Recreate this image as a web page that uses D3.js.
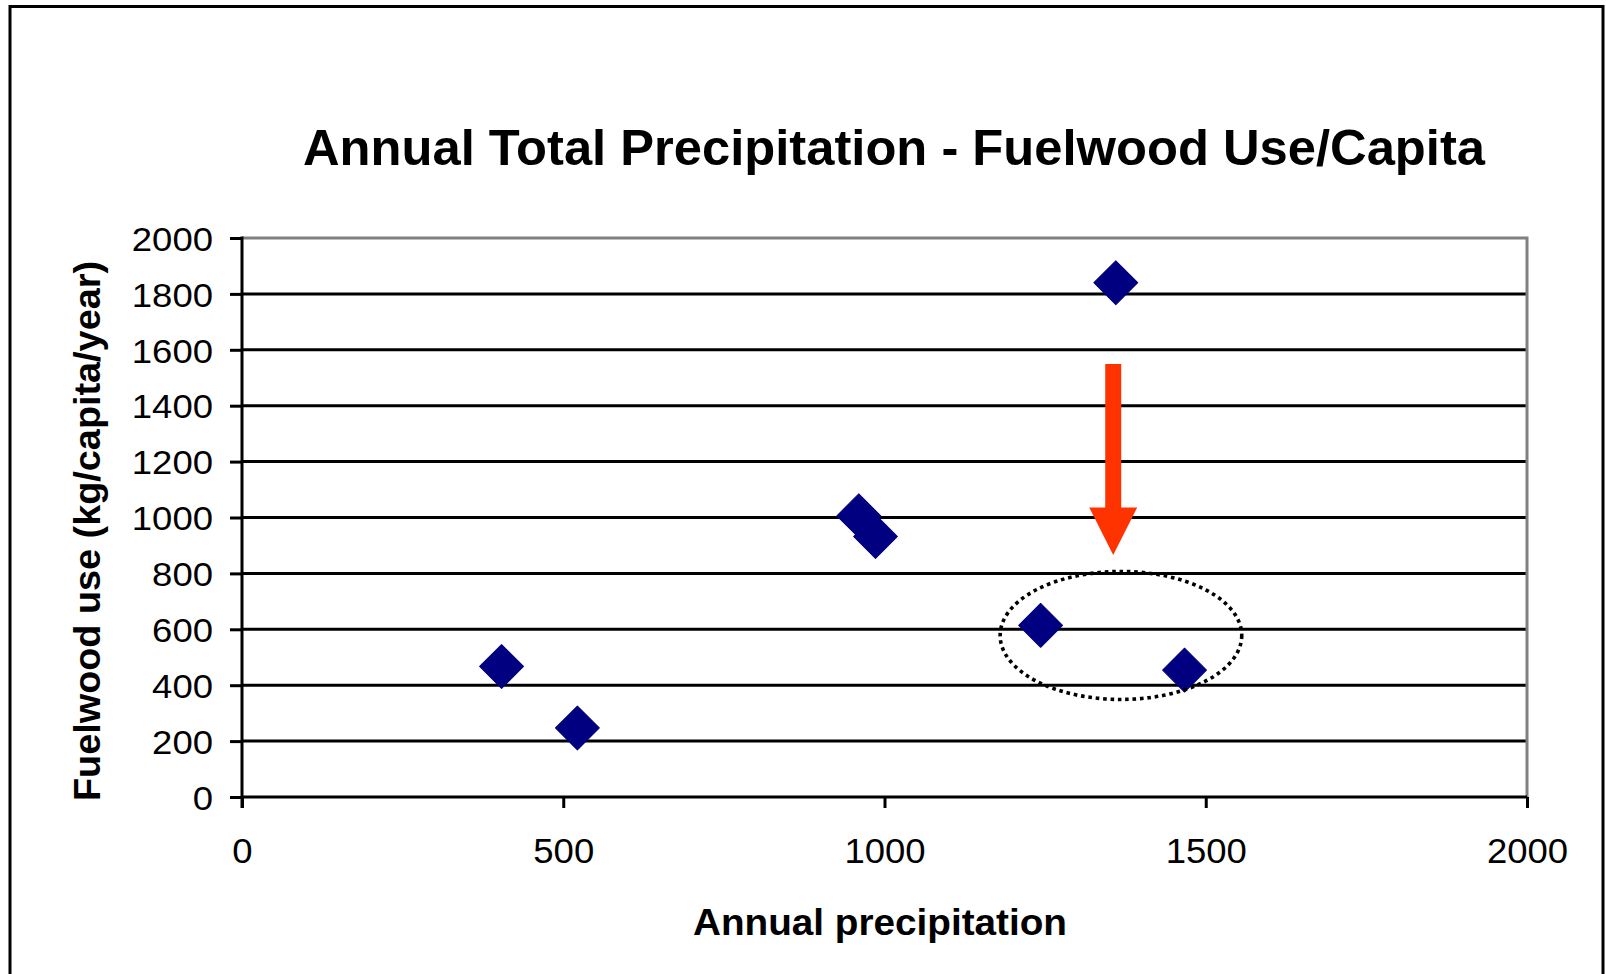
<!DOCTYPE html>
<html>
<head>
<meta charset="utf-8">
<script src="https://cdn.jsdelivr.net/npm/d3@7"></script>
<style>
  html, body { margin: 0; padding: 0; background: #fff; }
  svg { display: block; font-family: "Liberation Sans", Arial, sans-serif; }
</style>
</head>
<body>
<svg id="chart" width="1606" height="974"></svg>
<script>
// Observations: annual precipitation (mm) vs fuelwood use (kg/capita/year)
const precipitation = [404, 522, 960, 986, 1360, 1243, 1467];
const fuelwoodUse   = [467, 247, 1006, 932, 1840, 614, 454];

// Axis ticks
const xTicks = [0, 500, 1000, 1500, 2000];
const yTicks = [0, 200, 400, 600, 800, 1000, 1200, 1400, 1600, 1800, 2000];

// Annotation: downward arrow and a dotted ring around the two low wet-region points
const arrowX = 1356;
const arrowTop = 1549, arrowHeadBase = 1036, arrowTip = 866;
const ringCenter = [1368, 578];
const ringRadii = [188, 229];

const title = "Annual Total Precipitation - Fuelwood Use/Capita";
const xTitle = "Annual precipitation";
const yTitle = "Fuelwood use (kg/capita/year)";

const svg = d3.select("#chart");
const plot = { left: 242, right: 1527, top: 238, bottom: 797 };

const x = d3.scaleLinear().domain([0, 2000]).range([plot.left, plot.right]);
const y = d3.scaleLinear().domain([0, 2000]).range([plot.bottom, plot.top]);

// Tick labels are drawn slightly wide; each digit takes about 20.3px
const digitWidth = 20.3;

// Outer frame
svg.append("rect")
  .attr("x", 10).attr("y", 6.5)
  .attr("width", 1593).attr("height", 990)
  .attr("fill", "none").attr("stroke", "#000").attr("stroke-width", 3);

// Title
svg.append("text")
  .attr("x", 894).attr("y", 165)
  .attr("text-anchor", "middle")
  .attr("font-size", 50).attr("font-weight", "bold")
  .attr("textLength", 1182).attr("lengthAdjust", "spacingAndGlyphs")
  .text(title);

// Horizontal gridlines
svg.append("g")
  .selectAll("line")
  .data(yTicks.filter(v => v > 0 && v < 2000))
  .join("line")
  .attr("x1", plot.left).attr("x2", plot.right)
  .attr("y1", d => y(d)).attr("y2", d => y(d))
  .attr("stroke", "#000").attr("stroke-width", 3);

// Plot border (top and right) in grey
svg.append("path")
  .attr("d", `M${plot.left},${y(2000)}H${x(2000)}V${y(0)}`)
  .attr("fill", "none").attr("stroke", "#808080").attr("stroke-width", 3);

// Y axis
const yAxis = svg.append("g")
  .attr("transform", `translate(${plot.left},0)`)
  .call(d3.axisLeft(y).tickValues(yTicks).tickSize(12).tickPadding(17).tickFormat(d3.format("d")));
yAxis.select(".domain").remove();
yAxis.selectAll(".tick line").attr("stroke", "#000").attr("stroke-width", 3);
yAxis.selectAll(".tick text")
  .attr("font-size", 34).attr("fill", "#000")
  .attr("font-family", "\"Liberation Sans\", Arial, sans-serif")
  .attr("dy", "0.36em")
  .attr("textLength", d => String(d).length * digitWidth)
  .attr("lengthAdjust", "spacingAndGlyphs");

// X axis
const xAxis = svg.append("g")
  .attr("transform", `translate(0,${plot.bottom})`)
  .call(d3.axisBottom(x).tickValues(xTicks).tickSize(11).tickPadding(30).tickFormat(d3.format("d")));
xAxis.select(".domain").remove();
xAxis.selectAll(".tick line").attr("stroke", "#000").attr("stroke-width", 3);
xAxis.selectAll(".tick text")
  .attr("font-size", 35).attr("fill", "#000")
  .attr("font-family", "\"Liberation Sans\", Arial, sans-serif")
  .attr("dy", "0.71em")
  .attr("textLength", d => String(d).length * digitWidth)
  .attr("lengthAdjust", "spacingAndGlyphs");

// Axis lines
svg.append("line")
  .attr("x1", plot.left).attr("x2", plot.right)
  .attr("y1", y(0)).attr("y2", y(0))
  .attr("stroke", "#000").attr("stroke-width", 3);
svg.append("line")
  .attr("x1", plot.left).attr("x2", plot.left)
  .attr("y1", y(2000) - 1.5).attr("y2", y(0) + 11)
  .attr("stroke", "#000").attr("stroke-width", 3);

// Axis titles
svg.append("text")
  .attr("x", 880).attr("y", 935)
  .attr("text-anchor", "middle")
  .attr("font-size", 37).attr("font-weight", "bold")
  .attr("textLength", 374).attr("lengthAdjust", "spacingAndGlyphs")
  .text(xTitle);

svg.append("text")
  .attr("transform", "translate(100,531) rotate(-90)")
  .attr("text-anchor", "middle")
  .attr("font-size", 37).attr("font-weight", "bold")
  .attr("textLength", 540).attr("lengthAdjust", "spacingAndGlyphs")
  .text(yTitle);

// Data points as navy diamonds
const points = precipitation.map((p, i) => ({ p, f: fuelwoodUse[i] }));
const diamond = d3.symbol().type(d3.symbolSquare).size(31 * 31);
svg.append("g")
  .selectAll("path")
  .data(points)
  .join("path")
  .attr("d", diamond)
  .attr("transform", d => `translate(${x(d.p)},${y(d.f)}) rotate(45)`)
  .attr("fill", "#000080")
  .attr("stroke", "#000080").attr("stroke-width", 1).attr("stroke-linejoin", "round");

// Dotted ring
svg.append("ellipse")
  .attr("cx", x(ringCenter[0])).attr("cy", y(ringCenter[1]))
  .attr("rx", x(ringRadii[0]) - x(0)).attr("ry", y(0) - y(ringRadii[1]))
  .attr("fill", "none").attr("stroke", "#000")
  .attr("stroke-width", 3.6).attr("stroke-dasharray", "3.6,3.8");

// Red arrow
const ax = x(arrowX), shaftHalf = 8, headHalf = 24;
const arrowPath = d3.path();
arrowPath.moveTo(ax - shaftHalf, y(arrowTop));
arrowPath.lineTo(ax + shaftHalf, y(arrowTop));
arrowPath.lineTo(ax + shaftHalf, y(arrowHeadBase));
arrowPath.lineTo(ax + headHalf, y(arrowHeadBase));
arrowPath.lineTo(ax, y(arrowTip));
arrowPath.lineTo(ax - headHalf, y(arrowHeadBase));
arrowPath.lineTo(ax - shaftHalf, y(arrowHeadBase));
arrowPath.closePath();
svg.append("path")
  .attr("d", arrowPath.toString())
  .attr("fill", "#FF3300");
</script>
</body>
</html>
